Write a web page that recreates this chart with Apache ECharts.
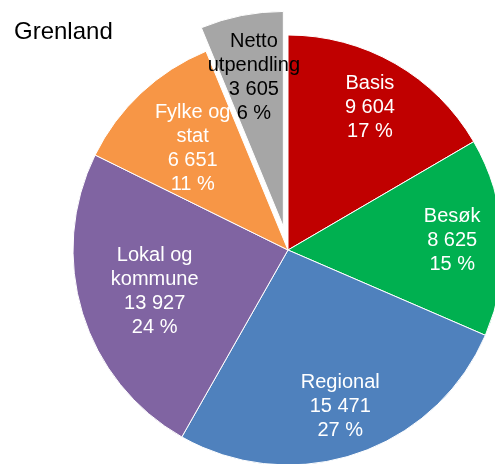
<!DOCTYPE html>
<html>
<head>
<meta charset="utf-8">
<script src="https://cdn.jsdelivr.net/npm/echarts@6/dist/echarts.min.js"></script>
<style>
  html, body { margin: 0; padding: 0; background: #fff; }
  #chart { width: 495px; height: 464px; }
</style>
</head>
<body>
<div id="chart"></div>
<script>
var categories = ['Basis', 'Besøk', 'Regional', 'Lokal og\nkommune', 'Fylke og\nstat', 'Netto\nutpendling'];
var values = [9604, 8625, 15471, 13927, 6651, 3605];
var colors = ['#c00000', '#00b050', '#4f81bd', '#8064a2', '#f79646', '#a6a6a6'];
var labelColors = ['#fff', '#fff', '#fff', '#fff', '#fff', '#000'];
var exploded = 'Netto\nutpendling';

var fmt = function (n) {
	return String(n).replace(/\B(?=(\d{3})+(?!\d))/g, ' ');
};

var CENTER = [288, 250];
var R = 215;

var pieData = categories.map(function (name, i) {
	return {
		name: name,
		value: values[i],
		selected: name === exploded,
		itemStyle: { color: colors[i] }
	};
});

// transparent copy of the pie that only carries labels for the given slices;
// the inner radius moves the 'inside' label in or out
function labelSeries(inner, shown) {
	return {
		type: 'pie',
		center: CENTER,
		radius: [inner, R],
		startAngle: 90,
		selectedMode: 'single',
		selectedOffset: 24,
		silent: true,
		percentPrecision: 0,
		avoidLabelOverlap: false,
		labelLayout: { hideOverlap: false },
		itemStyle: { color: 'rgba(0,0,0,0)' },
		labelLine: { show: false },
		emphasis: { disabled: true },
		label: {
			position: 'inside',
			fontFamily: 'Liberation Sans, Arial',
			fontSize: 20,
			lineHeight: 24,
			align: 'center',
			formatter: function (p) {
				return p.name + '\n' + fmt(p.value) + '\n' + p.percent + ' %';
			}
		},
		data: categories.map(function (name, i) {
			return {
				name: name,
				value: values[i],
				selected: name === exploded,
				label: { show: shown.indexOf(name) >= 0, color: labelColors[i] }
			};
		})
	};
}

var chart = echarts.init(document.getElementById('chart'));
chart.setOption({
	animation: false,
	title: {
		text: 'Grenland',
		left: 9,
		top: 15,
		textStyle: {
			fontFamily: 'Liberation Sans, Arial',
			fontSize: 24,
			fontWeight: 'normal',
			color: '#000'
		}
	},
	series: [
		{
			type: 'pie',
			center: CENTER,
			radius: R,
			startAngle: 90,
			selectedMode: 'single',
			selectedOffset: 24,
			silent: true,
			itemStyle: { borderColor: '#fff', borderWidth: 1 },
			label: { show: false },
			labelLine: { show: false },
			emphasis: { disabled: true },
			data: pieData
		},
		labelSeries(108, ['Basis', 'Besøk', 'Regional']),
		labelSeries(82, ['Netto\nutpendling']),
		labelSeries(58, ['Lokal og\nkommune', 'Fylke og\nstat'])
	]
});
</script>
</body>
</html>
